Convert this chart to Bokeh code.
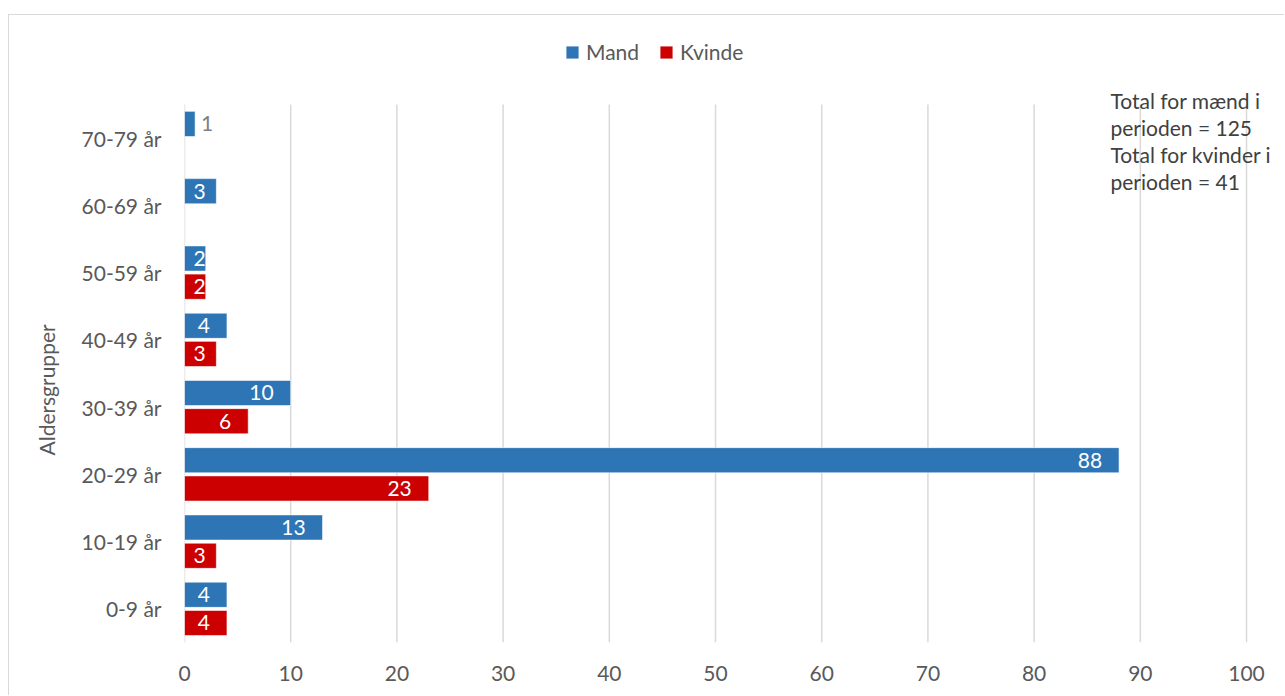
import numpy as np
from bokeh.plotting import figure
from bokeh.models import (ColumnDataSource, Range1d, Legend, LegendItem,
                          Label, FixedTicker, Title)
from bokeh.transform import dodge
from bokeh.core.properties import value
from bokeh.embed import file_html
from bokeh.resources import INLINE

# ---- data ----
categories = ["0-9 år", "10-19 år", "20-29 år", "30-39 år",
              "40-49 år", "50-59 år", "60-69 år", "70-79 år"]
mand = [4, 13, 88, 10, 4, 2, 3, 1]
kvinde = [4, 3, 23, 6, 3, 2, None, None]
series_names = ["Mand", "Kvinde"]
x_ticks = [0, 10, 20, 30, 40, 50, 60, 70, 80, 90, 100]
y_title = "Aldersgrupper"
note_text = "Total for mænd i\nperioden = 125\nTotal for kvinder i\nperioden = 41"

# ---- style ----
BLUE = "#2e75b6"
RED = "#cc0000"
GRAY_TXT = "#595959"
GRID = "#d9d9d9"
FONT = "Lato"
FS = "21px"

n = len(categories)
pos = list(range(n))

# frame covers the legend / note area too; category band is -0.5 .. n-0.5
p = figure(width=1276, height=681, output_backend="svg", toolbar_location=None,
           y_range=Range1d(-0.5, n - 0.5 + 1.323), x_range=Range1d(0, 103.67),
           min_border_left=175, min_border_right=0, min_border_top=0,
           min_border_bottom=54)
p.styles = {"margin-top": "14px", "margin-left": "8px",
            "border-left": "1px solid #d9d9d9", "border-top": "1px solid #d9d9d9"}
p.outline_line_color = None
p.background_fill_color = "white"
p.border_fill_color = "white"

def to_num(lst):
    return [np.nan if v is None else float(v) for v in lst]

m_vals = np.array(to_num(mand))
k_vals = np.array(to_num(kvinde))

# vertical grid lines limited to the category band
grid_src = ColumnDataSource(dict(x=x_ticks, y0=[-0.5] * len(x_ticks),
                                 y1=[n - 0.5] * len(x_ticks)))
p.segment(x0="x", y0="y0", x1="x", y1="y1", source=grid_src,
          line_color=GRID, line_width=1.5)

src = ColumnDataSource(dict(pos=pos, cat=categories, mand=m_vals, kvinde=k_vals))

off = 0.21
h = 0.375
r_m = p.hbar(y=dodge("pos", off), left=0, right="mand", height=h,
             source=src, fill_color=BLUE, line_color="white", line_width=0.6)
r_k = p.hbar(y=dodge("pos", -off), left=0, right="kvinde", height=h,
             source=src, fill_color=RED, line_color="white", line_width=0.6)

# data labels
def label_sources(vals):
    inside = dict(pos=[], x=[], t=[])
    outside = dict(pos=[], x=[], t=[])
    for i, v in zip(pos, vals):
        if np.isnan(v):
            continue
        if v <= 1:
            outside["pos"].append(i); outside["x"].append(v); outside["t"].append(str(int(v)))
        else:
            inside["pos"].append(i); inside["x"].append(max(v, 3.6)); inside["t"].append(str(int(v)))
    return ColumnDataSource(inside), ColumnDataSource(outside)

for vals, o in ((m_vals, off), (k_vals, -off)):
    ins, outs = label_sources(vals)
    p.text(x="x", y=dodge("pos", o), text="t", source=ins,
           text_align="right", text_baseline="middle", x_offset=-17,
           text_color="white", text_font=value(FONT), text_font_size=FS)
    p.text(x="x", y=dodge("pos", o), text="t", source=outs,
           text_align="left", text_baseline="middle", x_offset=6,
           text_color="#7f7f7f", text_font=value(FONT), text_font_size=FS)

# axes
p.xaxis.ticker = FixedTicker(ticks=x_ticks)
p.xaxis.axis_line_color = None
p.xaxis.major_tick_line_color = None
p.xaxis.minor_tick_line_color = None
p.xaxis.major_label_text_font = FONT
p.xaxis.major_label_text_font_size = FS
p.xaxis.major_label_text_color = GRAY_TXT
p.xaxis.major_label_standoff = 17

p.yaxis.ticker = FixedTicker(ticks=pos)
p.yaxis.major_label_overrides = {i: c for i, c in zip(pos, categories)}
p.yaxis.axis_line_color = None
p.yaxis.major_tick_line_color = None
p.yaxis.minor_tick_line_color = None
p.yaxis.major_label_text_font = FONT
p.yaxis.major_label_text_font_size = FS
p.yaxis.major_label_text_color = GRAY_TXT
p.yaxis.major_label_standoff = 17

p.xgrid.grid_line_color = None
p.ygrid.grid_line_color = None

# y-axis title, placed over the category band
ytitle = Title(text=y_title, align="left", offset=187, standoff=39,
               text_font=FONT, text_font_size=FS, text_font_style="normal",
               text_color=GRAY_TXT)
p.add_layout(ytitle, "left")

# legend
legend = Legend(items=[LegendItem(label=series_names[0], renderers=[r_m]),
                       LegendItem(label=series_names[1], renderers=[r_k])],
                orientation="horizontal", location=(380, 578),
                label_text_font=FONT, label_text_font_size=FS,
                label_text_color=GRAY_TXT, glyph_width=16, glyph_height=16,
                label_standoff=6, spacing=19, padding=0, margin=0,
                border_line_color=None, background_fill_alpha=0)
p.add_layout(legend, "center")

# note
note = Label(x=926, y=555, x_units="screen", y_units="screen", text=note_text,
             text_font=FONT, text_font_size=FS, text_color="#404040",
             text_line_height=1.08, text_baseline="top", text_align="left")
p.add_layout(note)

open("out.html", "w").write(file_html(p, INLINE))
